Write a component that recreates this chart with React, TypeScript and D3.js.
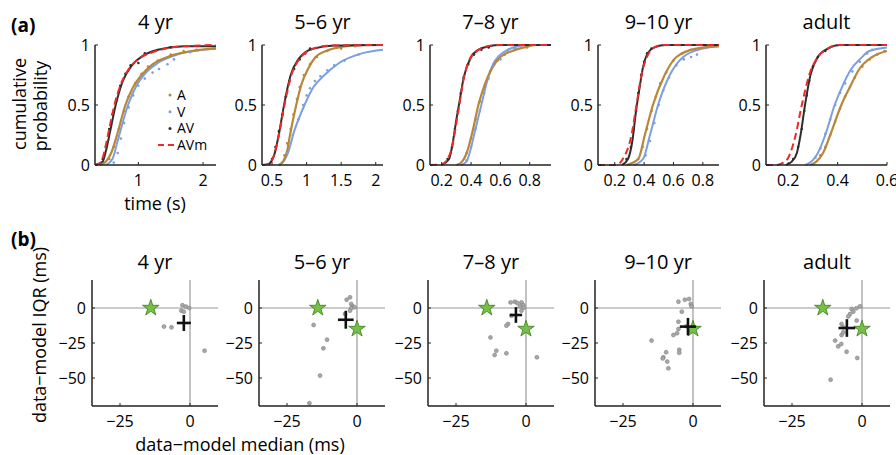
import React from 'react';
import * as d3 from 'd3';

const FONT = "'Open Sans', sans-serif";

const ages = ['4 yr', '5–6 yr', '7–8 yr', '9–10 yr', 'adult'];

// panel (a): time axis per age group
const timeDomains = [[0.33, 2.2], [0.355, 2.105], [0.12, 0.945], [0.086, 0.91], [0.11, 0.6]];
const timeTicks = [[1, 2], [0.5, 1, 1.5, 2], [0.2, 0.4, 0.6, 0.8], [0.2, 0.4, 0.6, 0.8], [0.2, 0.4, 0.6]];
const probTicks = [0, 0.5, 1];

// fitted curves [time, cumulative probability]
const aCurves = [
  [[0.4, 0], [0.5, 0.03], [0.58, 0.1], [0.67, 0.25], [0.8, 0.5], [0.92, 0.65], [1.05, 0.75], [1.2, 0.83], [1.45, 0.9], [1.95, 0.96], [2.2, 0.97]],
  [[0.6, 0], [0.66, 0.03], [0.72, 0.12], [0.76, 0.25], [0.85, 0.5], [0.93, 0.68], [1.02, 0.8], [1.13, 0.9], [1.28, 0.95], [1.5, 0.985], [1.8, 1], [2.1, 1]],
  [[0.3, 0], [0.34, 0.03], [0.37, 0.1], [0.41, 0.28], [0.45, 0.5], [0.49, 0.66], [0.54, 0.8], [0.6, 0.9], [0.68, 0.95], [0.78, 0.985], [0.84, 1], [0.945, 1]],
  [[0.28, 0], [0.36, 0.05], [0.405, 0.25], [0.46, 0.5], [0.54, 0.75], [0.62, 0.9], [0.757, 0.97], [0.91, 0.99]],
  [[0.29, 0], [0.315, 0.03], [0.341, 0.1], [0.37, 0.25], [0.415, 0.5], [0.45, 0.65], [0.488, 0.8], [0.54, 0.9], [0.6, 0.95]],
];
const vCurves = [
  [[0.5, 0], [0.6, 0.05], [0.68, 0.2], [0.84, 0.5], [0.97, 0.66], [1.1, 0.76], [1.3, 0.85], [1.6, 0.92], [2.0, 0.96], [2.2, 0.97]],
  [[0.6, 0], [0.68, 0.04], [0.73, 0.1], [0.82, 0.28], [0.97, 0.5], [1.1, 0.65], [1.26, 0.75], [1.47, 0.85], [1.8, 0.93], [2.105, 0.96]],
  [[0.33, 0], [0.37, 0.03], [0.39, 0.1], [0.43, 0.3], [0.47, 0.5], [0.51, 0.7], [0.55, 0.84], [0.59, 0.91], [0.65, 0.96], [0.72, 0.99], [0.8, 1], [0.945, 1]],
  [[0.33, 0], [0.393, 0.05], [0.44, 0.25], [0.495, 0.5], [0.575, 0.75], [0.666, 0.9], [0.8, 0.97], [0.91, 0.99]],
  [[0.27, 0], [0.3, 0.04], [0.32, 0.1], [0.35, 0.25], [0.388, 0.5], [0.42, 0.66], [0.455, 0.8], [0.49, 0.88], [0.528, 0.95], [0.6, 0.98]],
];
const avCurves = [
  [[0.33, 0], [0.45, 0.03], [0.5, 0.12], [0.56, 0.27], [0.65, 0.5], [0.76, 0.7], [0.9, 0.83], [1.07, 0.91], [1.3, 0.96], [1.7, 0.99], [2.2, 0.99]],
  [[0.45, 0], [0.53, 0.08], [0.6, 0.26], [0.68, 0.52], [0.77, 0.75], [0.88, 0.88], [0.98, 0.94], [1.1, 0.97], [1.4, 0.995], [2.105, 1]],
  [[0.2, 0], [0.25, 0.05], [0.27, 0.15], [0.3, 0.38], [0.32, 0.52], [0.35, 0.73], [0.4, 0.9], [0.45, 0.96], [0.52, 0.99], [0.6, 1], [0.945, 1]],
  [[0.25, 0], [0.29, 0.05], [0.32, 0.2], [0.345, 0.45], [0.37, 0.65], [0.39, 0.8], [0.42, 0.92], [0.47, 0.98], [0.55, 1], [0.91, 1]],
  [[0.19, 0], [0.215, 0.03], [0.235, 0.1], [0.25, 0.25], [0.268, 0.5], [0.29, 0.75], [0.32, 0.9], [0.36, 0.97], [0.41, 1], [0.6, 1]],
];
const avmCurves = [
  [[0.33, 0], [0.42, 0.02], [0.47, 0.1], [0.53, 0.25], [0.63, 0.5], [0.75, 0.7], [0.88, 0.82], [1.05, 0.9], [1.28, 0.95], [1.6, 0.985], [2.2, 1]],
  [[0.355, 0], [0.45, 0.01], [0.54, 0.1], [0.6, 0.25], [0.68, 0.5], [0.78, 0.75], [0.88, 0.87], [0.97, 0.93], [1.1, 0.97], [1.33, 0.995], [2.105, 1]],
  [[0.12, 0], [0.2, 0.005], [0.24, 0.05], [0.27, 0.15], [0.3, 0.35], [0.32, 0.5], [0.35, 0.72], [0.39, 0.88], [0.44, 0.95], [0.5, 0.985], [0.58, 1], [0.945, 1]],
  [[0.086, 0], [0.21, 0], [0.255, 0.05], [0.314, 0.25], [0.348, 0.5], [0.382, 0.75], [0.427, 0.92], [0.47, 0.98], [0.53, 1], [0.91, 1]],
  [[0.11, 0], [0.15, 0], [0.18, 0.02], [0.2, 0.06], [0.23, 0.25], [0.255, 0.5], [0.285, 0.75], [0.32, 0.9], [0.36, 0.97], [0.4, 1], [0.6, 1]],
];

// empirical points
const aDots = [
  [[0.55, 0.05], [0.62, 0.15], [0.7, 0.3], [0.78, 0.45], [0.85, 0.57], [0.95, 0.68], [1.05, 0.76], [1.15, 0.82], [1.3, 0.87], [1.5, 0.92], [1.7, 0.95], [1.9, 0.96]],
  [[0.68, 0.08], [0.72, 0.18], [0.77, 0.3], [0.81, 0.42], [0.86, 0.55], [0.9, 0.65], [0.96, 0.75], [1.05, 0.84], [1.15, 0.9], [1.3, 0.95], [1.5, 0.97], [1.7, 0.99]],
  [[0.37, 0.1], [0.4, 0.22], [0.43, 0.38], [0.46, 0.53], [0.49, 0.65], [0.53, 0.78], [0.58, 0.87], [0.63, 0.92], [0.7, 0.96], [0.78, 0.98]],
  [[0.36, 0.05], [0.39, 0.15], [0.42, 0.3], [0.45, 0.45], [0.48, 0.57], [0.51, 0.68], [0.55, 0.77], [0.6, 0.87], [0.66, 0.93], [0.72, 0.96]],
  [[0.33, 0.08], [0.35, 0.15], [0.37, 0.25], [0.39, 0.36], [0.41, 0.47], [0.43, 0.57], [0.45, 0.65], [0.47, 0.73], [0.5, 0.82], [0.53, 0.88], [0.56, 0.92], [0.59, 0.95]],
];
const vDots = [
  [[0.62, 0.02], [0.68, 0.1], [0.73, 0.22], [0.78, 0.35], [0.85, 0.48], [0.92, 0.58], [1.0, 0.66], [1.1, 0.72], [1.22, 0.77], [1.32, 0.8], [1.45, 0.84], [1.55, 0.88], [1.8, 0.94]],
  [[0.72, 0.1], [0.8, 0.25], [0.88, 0.38], [0.95, 0.5], [1.0, 0.58], [1.05, 0.64], [1.12, 0.7], [1.2, 0.74], [1.3, 0.79], [1.4, 0.83], [1.55, 0.87], [1.75, 0.92]],
  [[0.37, 0.04], [0.4, 0.15], [0.43, 0.3], [0.46, 0.45], [0.49, 0.6], [0.52, 0.72], [0.55, 0.82], [0.6, 0.88], [0.65, 0.95], [0.7, 0.97]],
  [[0.41, 0.08], [0.44, 0.2], [0.47, 0.35], [0.5, 0.5], [0.53, 0.62], [0.57, 0.73], [0.62, 0.83], [0.67, 0.88], [0.72, 0.9], [0.76, 0.92]],
  [[0.31, 0.06], [0.33, 0.14], [0.35, 0.26], [0.37, 0.38], [0.39, 0.5], [0.41, 0.6], [0.43, 0.68], [0.46, 0.78], [0.49, 0.86], [0.52, 0.93], [0.54, 0.96]],
];
const avDots = [
  [[0.45, 0.05], [0.5, 0.15], [0.55, 0.3], [0.6, 0.42], [0.66, 0.55], [0.72, 0.66], [0.8, 0.76], [0.88, 0.83], [1.0, 0.85], [1.1, 0.93], [1.2, 0.94], [1.5, 0.98]],
  [[0.5, 0.05], [0.55, 0.15], [0.6, 0.28], [0.65, 0.42], [0.7, 0.57], [0.75, 0.7], [0.82, 0.8], [0.9, 0.88], [0.98, 0.93], [1.05, 0.97]],
  [[0.24, 0.05], [0.27, 0.15], [0.29, 0.3], [0.31, 0.45], [0.33, 0.6], [0.35, 0.73], [0.38, 0.84], [0.42, 0.92], [0.47, 0.96], [0.52, 0.98]],
  [[0.28, 0.05], [0.31, 0.15], [0.33, 0.3], [0.345, 0.45], [0.36, 0.6], [0.38, 0.75], [0.4, 0.86], [0.42, 0.93], [0.45, 0.97]],
  [[0.22, 0.05], [0.24, 0.15], [0.255, 0.3], [0.265, 0.45], [0.275, 0.58], [0.285, 0.7], [0.3, 0.82], [0.32, 0.9], [0.35, 0.95]],
];

const legendLabels = ['A', 'V', 'AV', 'AVm'];

// panel (b): data - model differences (ms), [median, IQR]
const diffDots = [
  [[-2.7, 2], [-1.5, 1], [-0.3, 0], [-3.1, -1.9], [-2.2, -2.6], [-9.3, -13.3], [-6.6, -13.8], [5.2, -30.5]],
  [[-2.5, 7.6], [-3.7, 5.9], [-2.1, 2.9], [-1.5, 1.2], [-0.9, 0.5], [-2.1, -0.2], [-2.5, -1.9], [-4.3, -4.3], [-15.5, -12.1], [-10.7, -22.6], [-12, -28.8], [-13.2, -48.3], [-17, -68]],
  [[-5.5, 4], [-4, 4.5], [-3.1, 3.6], [-1.6, 4], [-1, 2.1], [-2.2, 1.2], [-0.8, 0.2], [-1.6, -1.9], [-5.2, -5.5], [-6.4, -11.4], [-7, -12.6], [-12.7, -21], [-10.6, -30.5], [-11.2, -33.6], [-7, -32.4], [3.9, -35.2]],
  [[-5.2, 4.5], [-2.9, 5.9], [-1.4, 6.4], [-0.8, 2.9], [-0.5, 1.2], [-4, -2.6], [-5.2, -9.8], [-5.2, -15], [-7, -19.3], [-5.7, -18], [-4.9, -29.8], [-4.9, -32], [-9.6, -31.6], [-10.6, -35.2], [-8.8, -43.1], [-14.8, -23.3], [-10.8, -36], [-9.2, -38.3], [-2.3, -13]],
  [[-3.7, -0.7], [-2, -0.2], [-0.7, 1.2], [-3.1, -2.6], [-4.3, -4.3], [-4.9, -6], [-1.9, -9], [-7.3, -11.4], [-6.7, -13.8], [-7.3, -19.3], [-6.7, -17.4], [-9.6, -23.3], [-8.5, -27.4], [-7.4, -25.7], [-5.5, -31.2], [-1.7, -35.7], [-11.2, -51.2]],
];
const modelStars = [
  [[-14, 0]],
  [[-14, 0], [0, -15]],
  [[-14, 0], [0, -15]],
  [[0, -15]],
  [[-14, 0], [0, -15]],
];
// mean [median, IQR] with half-extents of the cross
const crossMeans = [[-2.2, -10.7], [-4, -8.4], [-3.6, -5], [-1.8, -13.3], [-5.4, -14.3]];
const crossErrors = [[2.5, 5.7], [2.8, 6.4], [2.2, 5.6], [2.9, 6.2], [3, 6.3]];
const diffXTicks = [-25, 0];
const diffYTicks = [0, -25, -50];

const aLefts = [95, 262, 430, 598, 766];
const aWidth = 121;
const bLefts = [92, 259, 428, 595, 764];
const bWidth = 126;

const GOLD = '#b8873a';
const BLUE = '#7b9fe0';
const DARK = '#2e2e2e';
const RED = '#ec2a2a';
const AXIS = '#222';

const fmt = (v: number) => (v < 0 ? '−' + Math.abs(v) : String(v));

const CdfPanel = ({ i }: { i: number }) => {
  const x = d3.scaleLinear().domain(timeDomains[i]).range([aLefts[i], aLefts[i] + aWidth]);
  const y = d3.scaleLinear().domain([0, 1]).range([165, 45]);
  const line = d3.line<number[]>().x(d => x(d[0])).y(d => y(d[1])).curve(d3.curveMonotoneX);
  const [x0, x1] = x.range();
  const dots = (arr: number[][], c: string) =>
    arr.map((d, k) => <circle key={k} cx={x(d[0])} cy={y(d[1])} r={1.3} fill={c} />);
  return (
    <g>
      <text x={(x0 + x1) / 2} y={29} textAnchor="middle" fontSize={20} fontFamily={FONT}>{ages[i]}</text>
      <path d={line(vCurves[i] as any) || ''} fill="none" stroke={BLUE} strokeWidth={2} />
      <path d={line(aCurves[i] as any) || ''} fill="none" stroke={GOLD} strokeWidth={2.2} />
      <path d={line(avCurves[i] as any) || ''} fill="none" stroke={DARK} strokeWidth={2} />
      {dots(vDots[i], BLUE)}
      {dots(aDots[i], GOLD)}
      {dots(avDots[i], DARK)}
      <path d={line(avmCurves[i] as any) || ''} fill="none" stroke={RED} strokeWidth={2} strokeDasharray="7,4" />
      <line x1={x0} x2={x0} y1={y(1)} y2={y(0)} stroke={AXIS} strokeWidth={1.5} />
      <line x1={x0} x2={x1} y1={y(0)} y2={y(0)} stroke={AXIS} strokeWidth={1.5} />
      {probTicks.map(t => (
        <g key={t}>
          <line x1={x0} x2={x0 + 3} y1={y(t)} y2={y(t)} stroke={AXIS} />
          <text x={x0 - 5} y={y(t) + 5.5} textAnchor="end" fontSize={16} fontFamily={FONT}>{t}</text>
        </g>
      ))}
      {timeTicks[i].map(t => (
        <g key={t}>
          <line x1={x(t)} x2={x(t)} y1={y(0)} y2={y(0) - 3} stroke={AXIS} />
          <text x={x(t)} y={186} textAnchor="middle" fontSize={16} fontFamily={FONT}>{t}</text>
        </g>
      ))}
    </g>
  );
};

const DiffPanel = ({ i }: { i: number }) => {
  const x = d3.scaleLinear().domain([-35, 10]).range([bLefts[i], bLefts[i] + bWidth]);
  const y = d3.scaleLinear().domain([-70, 20]).range([406, 280]);
  const [x0, x1] = x.range();
  const star = d3.symbol().type(d3.symbolStar).size(85)() || '';
  const [cx, cy] = crossMeans[i];
  const [ex, ey] = crossErrors[i];
  return (
    <g>
      <text x={(x0 + x1) / 2} y={269} textAnchor="middle" fontSize={20} fontFamily={FONT}>{ages[i]}</text>
      <line x1={x0} x2={x1} y1={y(0)} y2={y(0)} stroke="#9a9a9a" strokeWidth={1.2} />
      <line x1={x(0)} x2={x(0)} y1={y(20)} y2={y(-70)} stroke="#9a9a9a" strokeWidth={1.2} />
      {diffDots[i].map((d, k) => (
        <circle key={k} cx={x(d[0])} cy={y(d[1])} r={2} fill="#a8a8a8" stroke="#777" strokeWidth={0.5} />
      ))}
      {modelStars[i].map((d, k) => (
        <path key={k} d={star} transform={`translate(${x(d[0])},${y(d[1])})`} fill="#74c043" stroke="#3d7a25" strokeWidth={0.8} />
      ))}
      <line x1={x(cx - ex)} x2={x(cx + ex)} y1={y(cy)} y2={y(cy)} stroke="#111" strokeWidth={2.6} />
      <line x1={x(cx)} x2={x(cx)} y1={y(cy + ey)} y2={y(cy - ey)} stroke="#111" strokeWidth={2.6} />
      <line x1={x0} x2={x0} y1={y(20)} y2={y(-70)} stroke={AXIS} strokeWidth={1.5} />
      <line x1={x0} x2={x1} y1={y(-70)} y2={y(-70)} stroke={AXIS} strokeWidth={1.5} />
      {diffYTicks.map(t => (
        <g key={t}>
          <line x1={x0} x2={x0 + 3} y1={y(t)} y2={y(t)} stroke={AXIS} />
          <text x={x0 - 6} y={y(t) + 5.5} textAnchor="end" fontSize={16} fontFamily={FONT}>{fmt(t)}</text>
        </g>
      ))}
      {diffXTicks.map(t => (
        <g key={t}>
          <line x1={x(t)} x2={x(t)} y1={y(-70)} y2={y(-70) - 3} stroke={AXIS} />
          <text x={x(t)} y={427} textAnchor="middle" fontSize={16} fontFamily={FONT}>{fmt(t)}</text>
        </g>
      ))}
    </g>
  );
};

const Legend = () => {
  const colors = [GOLD, BLUE, DARK];
  return (
    <g fontFamily={FONT} fontSize={14}>
      {legendLabels.map((l, k) => {
        const yy = 95 + k * 16.7;
        return (
          <g key={l}>
            {k < 3 ? (
              <circle cx={170} cy={yy} r={1.5} fill={colors[k]} />
            ) : (
              <line x1={158} x2={175} y1={yy} y2={yy} stroke={RED} strokeWidth={2} strokeDasharray="6,4" />
            )}
            <text x={177} y={yy + 5}>{l}</text>
          </g>
        );
      })}
    </g>
  );
};

export default function App() {
  return (
    <svg width={896} height={455} style={{ position: 'absolute', left: 0, top: 0, background: '#fff' }}>
      <text x={11} y={32} fontSize={19} fontWeight="bold" fontFamily={FONT}>(a)</text>
      <text x={11} y={246} fontSize={19} fontWeight="bold" fontFamily={FONT}>(b)</text>
      <text transform="translate(26,104) rotate(-90)" textAnchor="middle" fontSize={18} fontFamily={FONT}>cumulative</text>
      <text transform="translate(47,106) rotate(-90)" textAnchor="middle" fontSize={18} fontFamily={FONT}>probability</text>
      <text x={155} y={210} textAnchor="middle" fontSize={18} fontFamily={FONT}>time (s)</text>
      <text transform="translate(46,335) rotate(-90)" textAnchor="middle" fontSize={18} fontFamily={FONT}>data−model IQR (ms)</text>
      <text x={240} y={451} textAnchor="middle" fontSize={18} fontFamily={FONT}>data−model median (ms)</text>
      {ages.map((_, i) => <CdfPanel key={'a' + i} i={i} />)}
      <Legend />
      {ages.map((_, i) => <DiffPanel key={'b' + i} i={i} />)}
    </svg>
  );
}
